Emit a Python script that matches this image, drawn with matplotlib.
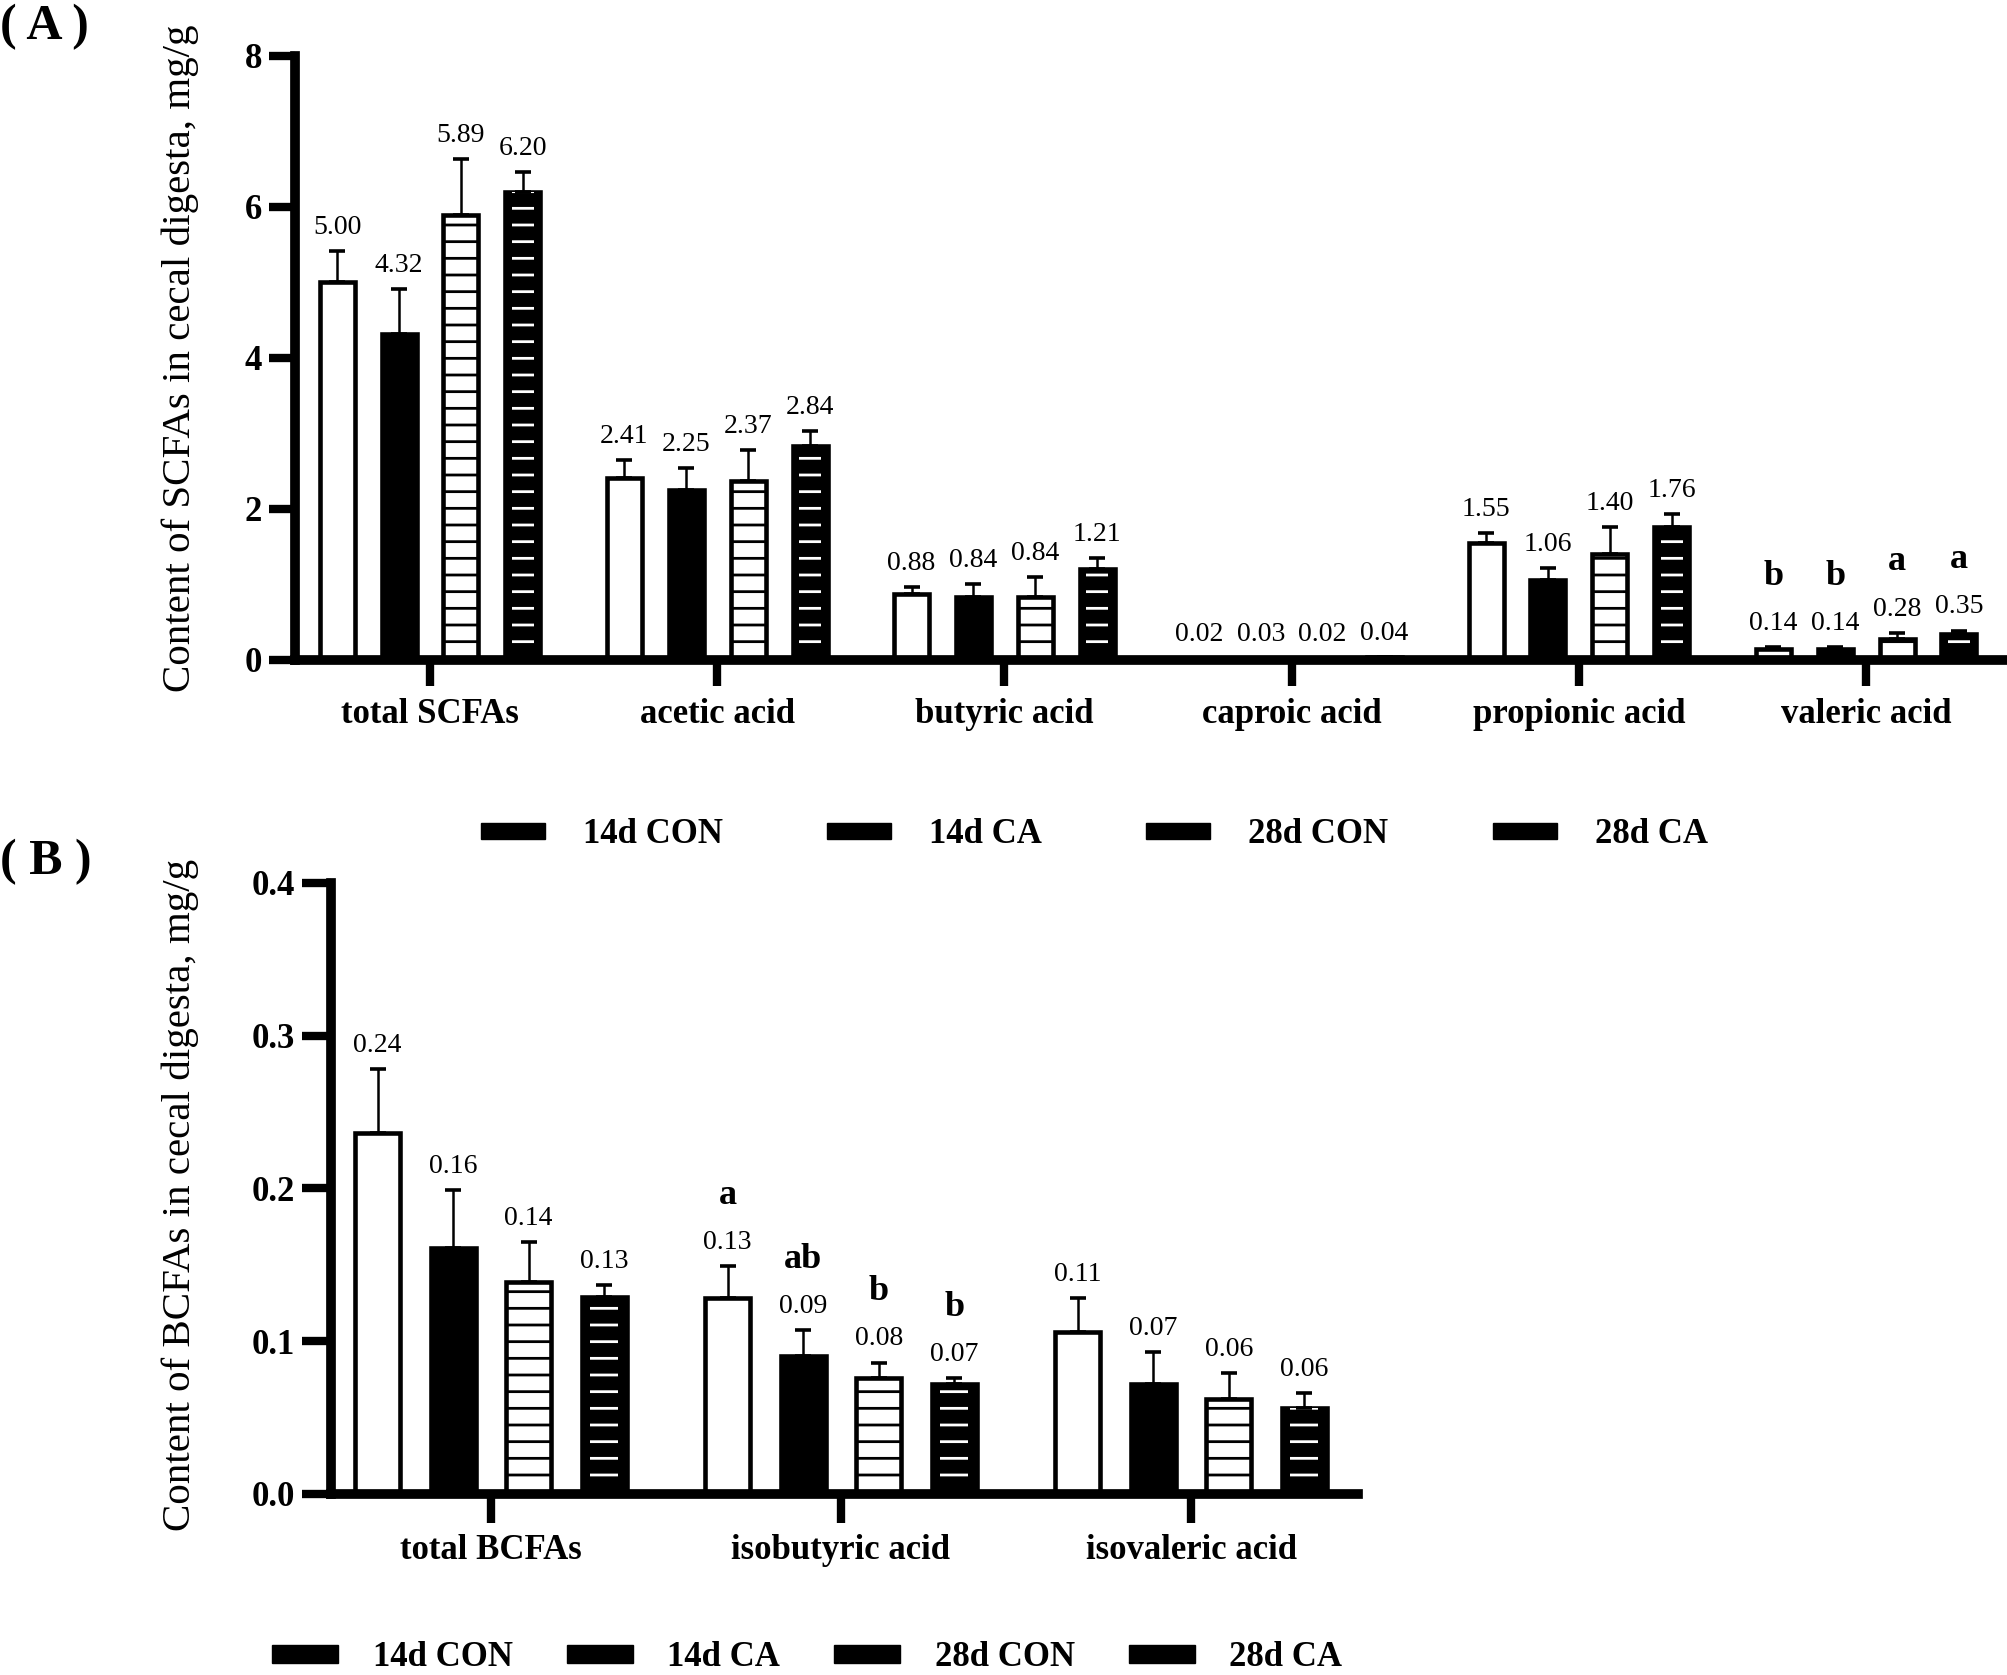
import matplotlib.pyplot as plt
from matplotlib.patches import Patch
import numpy as np

plt.rcParams['font.family'] = ['Liberation Serif', 'DejaVu Serif']
plt.rcParams['hatch.linewidth'] = 2.0

# ---- data ----
groups = ["14d CON", "14d CA", "28d CON", "28d CA"]

scfa_cats = ["total SCFAs", "acetic acid", "butyric acid", "caproic acid",
             "propionic acid", "valeric acid"]
scfa_14d_con = [5.00, 2.41, 0.88, 0.02, 1.55, 0.14]
scfa_14d_ca = [4.32, 2.25, 0.84, 0.03, 1.06, 0.14]
scfa_28d_con = [5.89, 2.37, 0.84, 0.02, 1.40, 0.28]
scfa_28d_ca = [6.20, 2.84, 1.21, 0.04, 1.76, 0.35]
scfa_se_14d_con = [0.42, 0.24, 0.08, 0.0, 0.13, 0.03]
scfa_se_14d_ca = [0.59, 0.29, 0.16, 0.0, 0.16, 0.03]
scfa_se_28d_con = [0.74, 0.41, 0.26, 0.0, 0.36, 0.08]
scfa_se_28d_ca = [0.26, 0.19, 0.14, 0.0, 0.17, 0.04]
scfa_let_14d_con = ["", "", "", "", "", "b"]
scfa_let_14d_ca = ["", "", "", "", "", "b"]
scfa_let_28d_con = ["", "", "", "", "", "a"]
scfa_let_28d_ca = ["", "", "", "", "", "a"]

bcfa_cats = ["total BCFAs", "isobutyric acid", "isovaleric acid"]
bcfa_14d_con = [0.236, 0.128, 0.106]
bcfa_14d_ca = [0.161, 0.090, 0.072]
bcfa_28d_con = [0.139, 0.076, 0.062]
bcfa_28d_ca = [0.129, 0.072, 0.056]
bcfa_se_14d_con = [0.042, 0.021, 0.022]
bcfa_se_14d_ca = [0.038, 0.017, 0.021]
bcfa_se_28d_con = [0.026, 0.010, 0.017]
bcfa_se_28d_ca = [0.008, 0.004, 0.010]
bcfa_let_14d_con = ["", "a", ""]
bcfa_let_14d_ca = ["", "ab", ""]
bcfa_let_28d_con = ["", "b", ""]
bcfa_let_28d_ca = ["", "b", ""]


def draw_panel(ax, cats, means, errs, letters, step, width, tick_len, xpad):
    x = np.arange(len(cats))
    for i, (m, e, lets) in enumerate(zip(means, errs, letters)):
        pos = x + (i - 1.5) * step
        m = np.array(m)
        e = np.array(e)
        if i == 0:
            ax.bar(pos, m, width, color='white', edgecolor='black', linewidth=3.3, zorder=2)
        elif i == 1:
            ax.bar(pos, m, width, color='black', edgecolor='black', linewidth=3.3, zorder=2)
        elif i == 2:
            ax.bar(pos, m, width, color='white', edgecolor='black', linewidth=3.3,
                   hatch='-', zorder=2)
        else:
            ax.bar(pos, m, width, color='black', edgecolor='black', linewidth=3.3, zorder=2)
            # white dashes inside the black bar
            ax.bar(pos, m, width * 0.62, color='none', edgecolor='white', linewidth=0,
                   hatch='-', zorder=2.1)
        ax.errorbar(pos, m, yerr=[np.zeros_like(e), e], fmt='none', ecolor='black',
                    elinewidth=1.8, capsize=5.5, capthick=2.6, zorder=3)
        for p, v, ee, lt in zip(pos, m, e, lets):
            ax.annotate(f"{v:.2f}", (p, v + ee), xytext=(0, 17), textcoords='offset points',
                        ha='center', va='center', fontsize=20)
            if lt:
                ax.annotate(lt, (p, v + ee), xytext=(0, 51), textcoords='offset points',
                            ha='center', va='center', fontsize=26, fontweight='bold')

    for s in ['top', 'right']:
        ax.spines[s].set_visible(False)
    for s in ['left', 'bottom']:
        ax.spines[s].set_linewidth(7)
        ax.spines[s].set_zorder(4)
    ax.set_xticks(x, cats, fontsize=25, fontweight='bold')
    ax.tick_params(axis='x', length=tick_len, width=6, pad=xpad)
    ax.tick_params(axis='y', length=tick_len, width=6, pad=5, labelsize=25)


fig = plt.figure(figsize=(20.08, 16.75), dpi=100)

# ---- panel A ----
axA = fig.add_axes([0.1469, 0.606, 0.8531, 0.3606])
draw_panel(axA, scfa_cats,
           [scfa_14d_con, scfa_14d_ca, scfa_28d_con, scfa_28d_ca],
           [scfa_se_14d_con, scfa_se_14d_ca, scfa_se_28d_con, scfa_se_28d_ca],
           [scfa_let_14d_con, scfa_let_14d_ca, scfa_let_28d_con, scfa_let_28d_ca],
           step=0.2155, width=0.122, tick_len=18.5, xpad=9)
axA.set_xlim(-0.47, 5.494)
axA.set_ylim(0, 8)
axA.set_yticks([0, 2, 4, 6, 8])
for lbl in axA.get_yticklabels():
    lbl.set_fontweight('bold')
axA.set_ylabel("Content of SCFAs in cecal digesta, mg/g", fontsize=29.5)
axA.yaxis.set_label_coords(-0.056, 0.5)

# ---- panel B ----
axB = fig.add_axes([0.1648, 0.1081, 0.5115, 0.3648])
draw_panel(axB, bcfa_cats,
           [bcfa_14d_con, bcfa_14d_ca, bcfa_28d_con, bcfa_28d_ca],
           [bcfa_se_14d_con, bcfa_se_14d_ca, bcfa_se_28d_con, bcfa_se_28d_ca],
           [bcfa_let_14d_con, bcfa_let_14d_ca, bcfa_let_28d_con, bcfa_let_28d_ca],
           step=0.2157, width=0.128, tick_len=21, xpad=7.5)
axB.set_xlim(-0.457, 2.477)
axB.set_ylim(0, 0.4)
axB.set_yticks([0.0, 0.1, 0.2, 0.3, 0.4], ["0.0", "0.1", "0.2", "0.3", "0.4"])
for lbl in axB.get_yticklabels():
    lbl.set_fontweight('bold')
axB.set_ylabel("Content of BCFAs in cecal digesta, mg/g", fontsize=29.5)
axB.yaxis.set_label_coords(-0.128, 0.49)

# ---- legends (all keys drawn as black blocks, as in the original) ----
handles = [Patch(facecolor='black', edgecolor='black') for _ in groups]
fig.legend(handles, groups, loc='center', bbox_to_anchor=(0.545, 0.5015), ncol=4,
           frameon=False, prop={'weight': 'bold', 'size': 25},
           handlelength=1.84, handleheight=0.37, handletextpad=1.1, columnspacing=3.0)
fig.legend(handles, groups, loc='center', bbox_to_anchor=(0.402, 0.0105), ncol=4,
           frameon=False, prop={'weight': 'bold', 'size': 25},
           handlelength=1.9, handleheight=0.42, handletextpad=1.0, columnspacing=1.55)

fig.text(0.0, 1 - 27 / 1675, "( A )", fontsize=36, fontweight='bold', ha='left', va='center')
fig.text(0.0, 1 - 862 / 1675, "( B )", fontsize=36, fontweight='bold', ha='left', va='center')

fig.savefig('out.png', dpi=100)
plt.close(fig)
